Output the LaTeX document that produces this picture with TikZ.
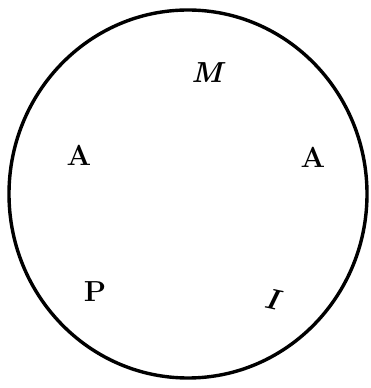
\documentclass[tikz,border=0pt]{standalone}
\begin{document}
\begin{tikzpicture}[x=1pt,y=1pt,
  letter/.style={font=\bfseries\fontsize{29}{29}\selectfont, inner sep=0pt}]
\useasboundingbox (0,0) rectangle (370,388);
\draw[line width=3.4pt] (188,194) ellipse [x radius=179, y radius=184];
\node[letter] (m) at (207,315) {\itshape M};
\node[letter] (a1) at (79,233) {A};
\node[letter] (a2) at (313,231) {A};
\node[letter] (p) at (95,96) {P};
\node[letter, rotate=-12] (i) at (272,89) {\itshape I};
\end{tikzpicture}
\end{document}
